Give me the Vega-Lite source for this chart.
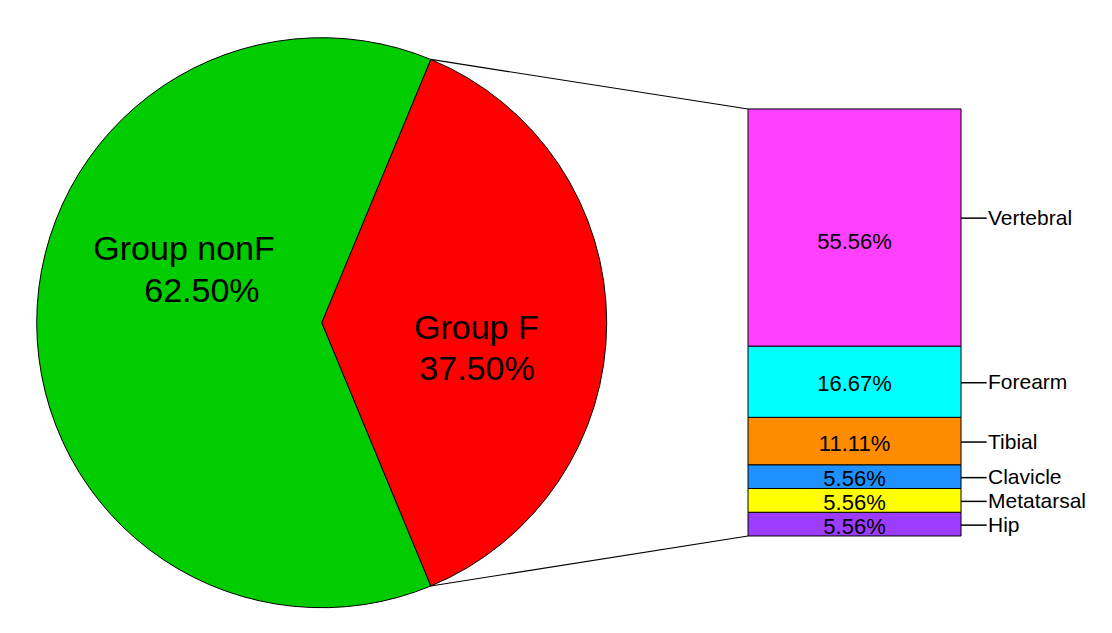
{
  "$schema": "https://vega.github.io/schema/vega-lite/v6.json",
  "width": 1112,
  "height": 633,
  "autosize": "none",
  "padding": 0,
  "background": "white",
  "config": {
    "view": {"stroke": null},
    "text": {"font": "Liberation Sans", "color": "black"}
  },
  "datasets": {
    "groups": [
      {"name": "Group F", "share": 0.375, "ord": 1},
      {"name": "Group nonF", "share": 0.625, "ord": 2}
    ],
    "parts": [
      {"name": "Hip", "share": 0.0556, "ord": 1},
      {"name": "Metatarsal", "share": 0.0556, "ord": 2},
      {"name": "Clavicle", "share": 0.0556, "ord": 3},
      {"name": "Tibial", "share": 0.1111, "ord": 4},
      {"name": "Forearm", "share": 0.1667, "ord": 5},
      {"name": "Vertebral", "share": 0.5556, "ord": 6}
    ]
  },
  "layer": [
    {
      "data": {"values": [{}]},
      "mark": {"type": "rule", "stroke": "black", "strokeWidth": 1.2},
      "encoding": {
        "x": {"datum": 1.0088, "type": "quantitative", "scale": {"domain": [0, 2.6042], "nice": false, "zero": false}, "axis": null},
        "y": {"datum": 1.1161, "type": "quantitative", "scale": {"domain": [-0.2272, 1.2553], "nice": false, "zero": false}, "axis": null},
        "x2": {"datum": 1.7518},
        "y2": {"datum": 1.0}
      }
    },
    {
      "data": {"values": [{}]},
      "mark": {"type": "rule", "stroke": "black", "strokeWidth": 1.2},
      "encoding": {
        "x": {"datum": 1.0088, "type": "quantitative", "scale": {"domain": [0, 2.6042], "nice": false, "zero": false}, "axis": null},
        "y": {"datum": -0.1171, "type": "quantitative", "scale": {"domain": [-0.2272, 1.2553], "nice": false, "zero": false}, "axis": null},
        "x2": {"datum": 1.7518},
        "y2": {"datum": 0}
      }
    },
    {
      "data": {"name": "groups"},
      "mark": {
        "type": "arc",
        "radius": 285,
        "x": {"expr": "scale('x', 0.7534)"},
        "y": {"expr": "scale('y', 0.4995)"},
        "stroke": "black",
        "strokeWidth": 1
      },
      "encoding": {
        "theta": {"field": "share", "type": "quantitative", "stack": true, "scale": {"range": [0.3927, 6.6759]}},
        "color": {
          "field": "name",
          "type": "nominal",
          "legend": null,
          "scale": {
            "domain": ["Group F", "Group nonF", "Vertebral", "Forearm", "Tibial", "Clavicle", "Metatarsal", "Hip"],
            "range": ["#ff0000", "#00cc00", "#ff40ff", "#00ffff", "#ff8c00", "#1e90ff", "#ffff00", "#9b3cff"]
          }
        },
        "order": {"field": "ord", "type": "quantitative"}
      }
    },
    {
      "data": {"name": "groups"},
      "mark": {
        "type": "text",
        "align": "left",
        "baseline": "alphabetic",
        "fontSize": 34,
        "x": {"expr": "scale('x', datum.name == 'Group F' ? 0.9696 : 0.2185)"},
        "y": {"expr": "scale('y', datum.name == 'Group F' ? 0.4607 : 0.6464)"}
      },
      "encoding": {
        "text": {"field": "name", "type": "nominal"}
      }
    },
    {
      "data": {"name": "groups"},
      "mark": {
        "type": "text",
        "align": "left",
        "baseline": "alphabetic",
        "fontSize": 34,
        "x": {"expr": "scale('x', datum.name == 'Group F' ? 0.982 : 0.3379)"},
        "y": {"expr": "scale('y', datum.name == 'Group F' ? 0.3653 : 0.5487)"}
      },
      "encoding": {
        "text": {"field": "share", "type": "quantitative", "format": ".2%"}
      }
    },
    {
      "data": {"name": "parts"},
      "mark": {
        "type": "bar",
        "x": {"expr": "scale('x', 2.0012)"},
        "width": 213,
        "stroke": "black",
        "strokeWidth": 1
      },
      "encoding": {
        "y": {"field": "share", "type": "quantitative", "stack": "zero", "scale": {"domain": [-0.2272, 1.2553], "nice": false, "zero": false}, "axis": null},
        "color": {
          "field": "name",
          "type": "nominal",
          "legend": null,
          "scale": {
            "domain": ["Group F", "Group nonF", "Vertebral", "Forearm", "Tibial", "Clavicle", "Metatarsal", "Hip"],
            "range": ["#ff0000", "#00cc00", "#ff40ff", "#00ffff", "#ff8c00", "#1e90ff", "#ffff00", "#9b3cff"]
          }
        },
        "order": {"field": "ord", "type": "quantitative"}
      }
    },
    {
      "data": {"name": "parts"},
      "mark": {
        "type": "text",
        "align": "center",
        "baseline": "middle",
        "fontSize": 22,
        "x": {"expr": "scale('x', 2.0012)"},
        "yOffset": {"expr": "datum.name == 'Vertebral' ? 14 : 2.5"}
      },
      "encoding": {
        "y": {"field": "share", "type": "quantitative", "stack": "zero", "bandPosition": 0.5, "scale": {"domain": [-0.2272, 1.2553], "nice": false, "zero": false}, "axis": null},
        "text": {"field": "share", "type": "quantitative", "format": ".2%"},
        "order": {"field": "ord", "type": "quantitative"}
      }
    },
    {
      "data": {"name": "parts"},
      "mark": {
        "type": "rule",
        "stroke": "black",
        "strokeWidth": 1.5,
        "x": {"expr": "scale('x', 2.2506)"},
        "x2": {"expr": "scale('x', 2.3108)"},
        "yOffset": {"expr": "datum.name == 'Vertebral' ? -9.4 : 1"}
      },
      "encoding": {
        "y": {"field": "share", "type": "quantitative", "stack": "zero", "bandPosition": 0.5, "scale": {"domain": [-0.2272, 1.2553], "nice": false, "zero": false}, "axis": null},
        "order": {"field": "ord", "type": "quantitative"}
      }
    },
    {
      "data": {"name": "parts"},
      "mark": {
        "type": "text",
        "align": "left",
        "baseline": "middle",
        "fontSize": 21,
        "x": {"expr": "scale('x', 2.3138)"},
        "yOffset": {"expr": "datum.name == 'Vertebral' ? -8.4 : 1.5"}
      },
      "encoding": {
        "y": {"field": "share", "type": "quantitative", "stack": "zero", "bandPosition": 0.5, "scale": {"domain": [-0.2272, 1.2553], "nice": false, "zero": false}, "axis": null},
        "text": {"field": "name", "type": "nominal"},
        "order": {"field": "ord", "type": "quantitative"}
      }
    }
  ]
}
